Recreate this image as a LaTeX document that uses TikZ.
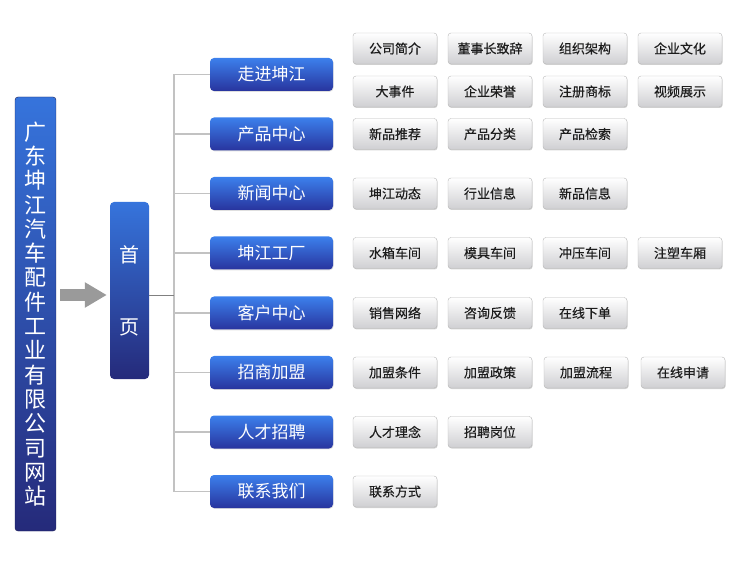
\documentclass[tikz,border=0pt]{standalone}
\usepackage{fontspec}
\setmainfont{Noto Sans CJK SC}
\newfontfamily\itemfont{Noto Sans CJK SC}[FakeBold=0.35]
\usepackage{tikz}
\usetikzlibrary{positioning,arrows.meta,shadows}

\definecolor{sitetop}{HTML}{3674DC}
\definecolor{sitebot}{HTML}{252A7A}
\definecolor{menutop}{HTML}{3C80EC}
\definecolor{menubot}{HTML}{28349E}
\definecolor{itembot}{HTML}{CFCFD2}
\definecolor{itemedge}{HTML}{B8B8B8}
\definecolor{itemtext}{HTML}{1C1C1C}
\definecolor{linegray}{HTML}{C2C2C2}
\definecolor{arrowgray}{HTML}{9A9A9A}

\tikzset{
  sitebox/.style={rounded corners=3pt, top color=sitetop, bottom color=sitebot,
    draw=sitebot!70!black, text=white, minimum width=41pt, minimum height=434pt,
    inner sep=0pt, align=center, font=\fontsize{22}{24.3}\selectfont},
  homebox/.style={rounded corners=4pt, top color=sitetop, bottom color=sitebot,
    text=white, minimum width=39pt, minimum height=177pt, inner sep=0pt,
    align=center, font=\fontsize{20}{72}\selectfont},
  menubox/.style={rounded corners=4pt, top color=menutop, bottom color=menubot,
    text=white, minimum width=123pt, minimum height=33pt, inner sep=0pt,
    font=\fontsize{17}{17}\selectfont,
    drop shadow={shadow xshift=0.6pt, shadow yshift=-0.8pt, opacity=0.25}},
  itembox/.style={rounded corners=3pt, top color=white, bottom color=itembot,
    draw=itemedge, text=itemtext, minimum width=84pt, minimum height=31pt,
    inner sep=0pt, font=\itemfont\fontsize{13}{13}\selectfont,
    drop shadow={shadow xshift=0.6pt, shadow yshift=-1pt, opacity=0.35}},
  branch/.style={draw=linegray, line width=1.6pt},
  fatarrow/.style={draw=arrowgray, line width=12pt, -{Triangle[length=22pt,width=24pt]}}
}

\begin{document}
\begin{tikzpicture}[x=1pt,y=-1pt]
    \useasboundingbox (0,0) rectangle (737,572);

    \node[sitebox] (site) at (35.5,314) {广\\东\\坤\\江\\汽\\车\\配\\件\\工\\业\\有\\限\\公\\司\\网\\站};
    \node[homebox] (home) at (129.5,290.5) {首\\页};
    \coordinate (hub) at (174,295);

    \node[menubox] (intro) at (271.5,74.5) {走进坤江};
    \node[menubox] (product) at (271.5,134) {产品中心};
    \node[menubox] (news) at (271.5,193.5) {新闻中心};
    \node[menubox] (factory) at (271.5,253) {坤江工厂};
    \node[menubox] (client) at (271.5,313) {客户中心};
    \node[menubox] (join) at (271.5,372.5) {招商加盟};
    \node[menubox] (talent) at (271.5,432) {人才招聘};
    \node[menubox] (contact) at (271.5,491.5) {联系我们};

    % 走进坤江
    \node[itembox] (intro-a) at (395,48.5) {公司简介};
    \node[itembox] (intro-b) at (490,48.5) {董事长致辞};
    \node[itembox] (intro-c) at (585,48.5) {组织架构};
    \node[itembox] (intro-d) at (680,48.5) {企业文化};
    \node[itembox] (intro-e) at (395,91.5) {大事件};
    \node[itembox] (intro-f) at (490,91.5) {企业荣誉};
    \node[itembox] (intro-g) at (585,91.5) {注册商标};
    \node[itembox] (intro-h) at (680,91.5) {视频展示};

    \node[itembox] (product-a) at (395,134) {新品推荐};
    \node[itembox] (product-b) at (490,134) {产品分类};
    \node[itembox] (product-c) at (585,134) {产品检索};

    \node[itembox] (news-a) at (395,193.5) {坤江动态};
    \node[itembox] (news-b) at (490,193.5) {行业信息};
    \node[itembox] (news-c) at (585,193.5) {新品信息};

    \node[itembox] (factory-a) at (395,253) {水箱车间};
    \node[itembox] (factory-b) at (490,253) {模具车间};
    \node[itembox] (factory-c) at (585,253) {冲压车间};
    \node[itembox] (factory-d) at (680,253) {注塑车厢};

    \node[itembox] (client-a) at (395,313) {销售网络};
    \node[itembox] (client-b) at (490,313) {咨询反馈};
    \node[itembox] (client-c) at (585,313) {在线下单};

    \node[itembox] (join-a) at (395,372.5) {加盟条件};
    \node[itembox] (join-b) at (490,372.5) {加盟政策};
    \node[itembox] (join-c) at (586,372.5) {加盟流程};
    \node[itembox] (join-d) at (683,372.5) {在线申请};

    \node[itembox] (talent-a) at (395,432) {人才理念};
    \node[itembox] (talent-b) at (490,432) {招聘岗位};

    \node[itembox] (contact-a) at (395,491.5) {联系方式};

    % tree lines
    \draw[branch] (hub |- intro) -- (hub |- contact);
    \draw[branch] (hub |- intro) -- (intro.west);
    \draw[branch] (hub |- product) -- (product.west);
    \draw[branch] (hub |- news) -- (news.west);
    \draw[branch] (hub |- factory) -- (factory.west);
    \draw[branch] (hub |- client) -- (client.west);
    \draw[branch] (hub |- join) -- (join.west);
    \draw[branch] (hub |- talent) -- (talent.west);
    \draw[branch] (hub |- contact) -- (contact.west);
    \draw[draw=gray, line width=0.9pt] (home.east |- hub) -- (hub);

    \draw[fatarrow, shorten <=4pt, shorten >=3pt] (site.east |- hub) -- (home.west |- hub);
  \end{tikzpicture}
\end{document}
